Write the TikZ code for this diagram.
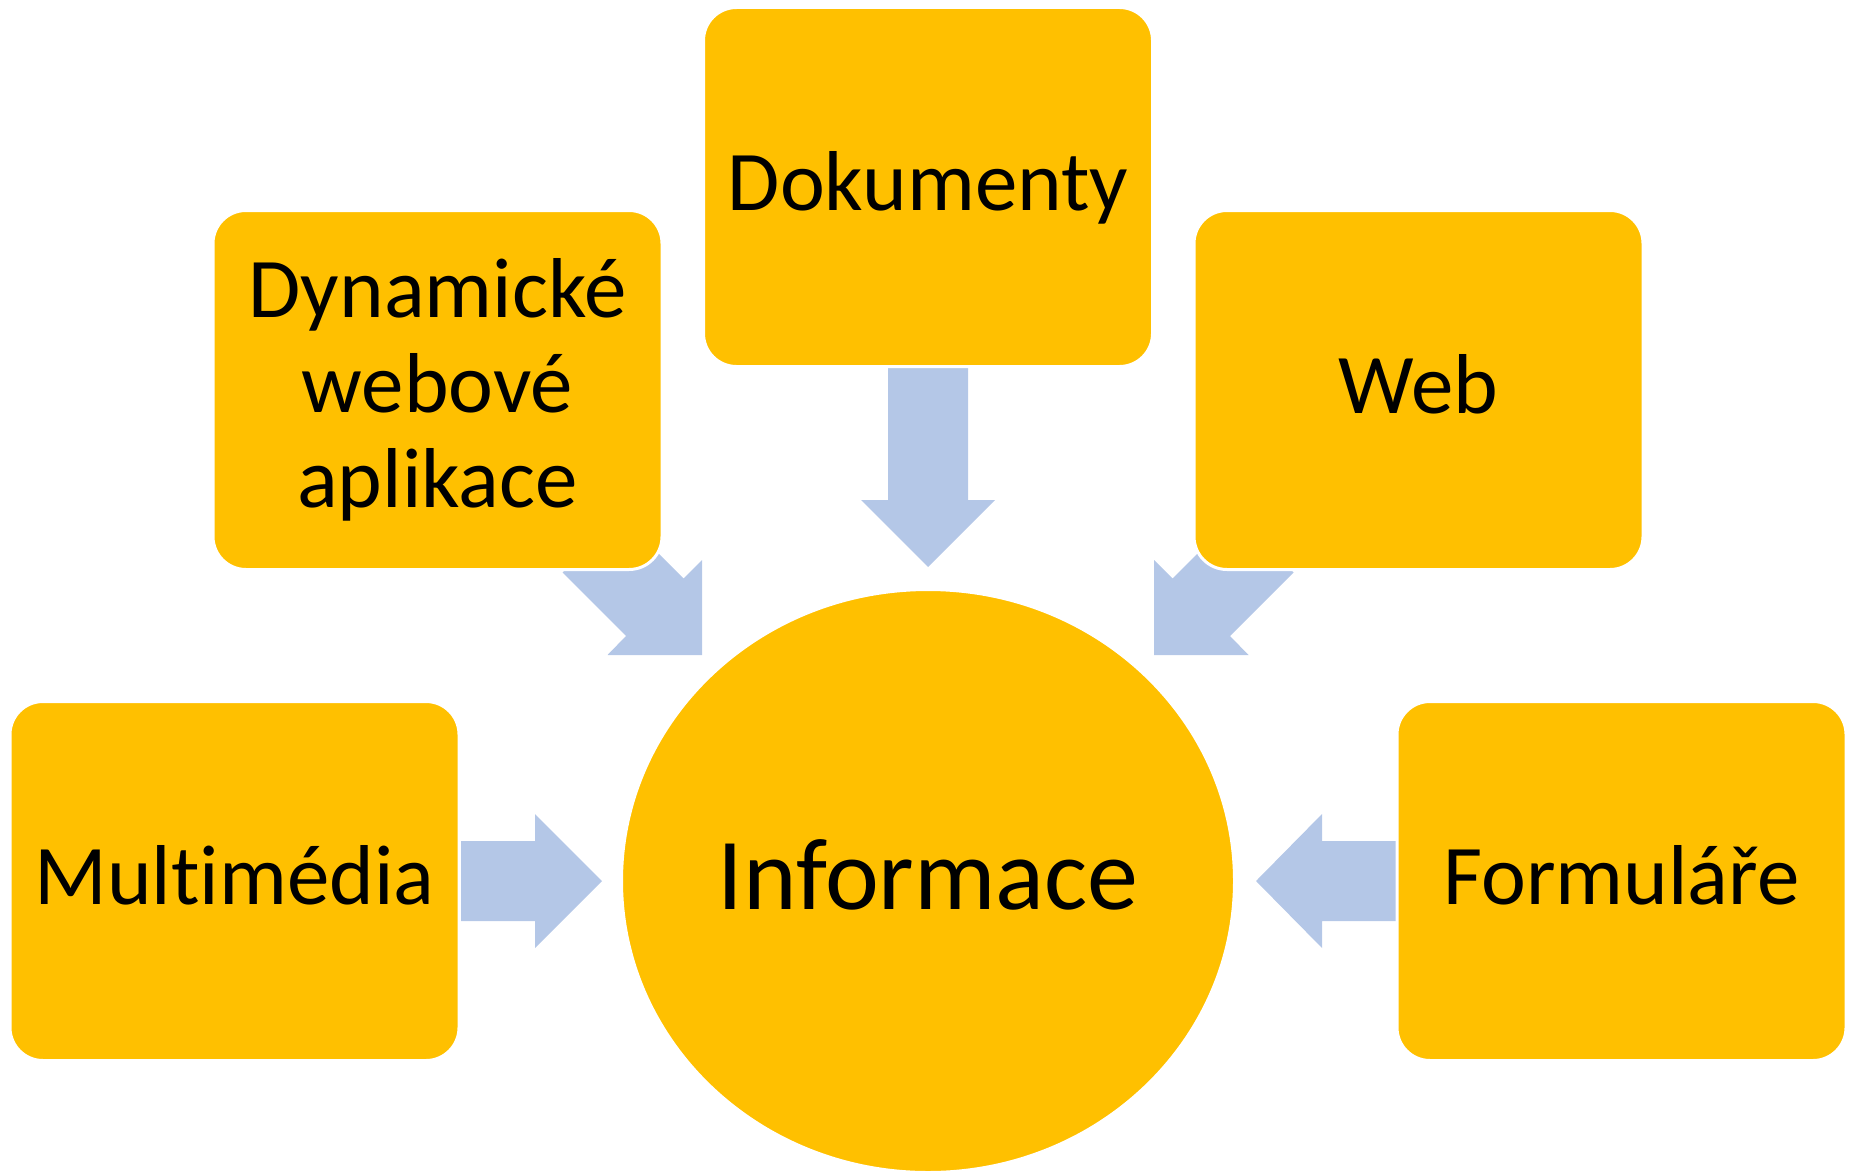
\documentclass[tikz,border=0pt]{standalone}
\usepackage{fontspec}
\setmainfont{Carlito}[Ligatures=NoCommon]
\definecolor{zluta}{HTML}{FFC000}
\definecolor{modra}{HTML}{B4C7E7}
\tikzset{
  box/.style={draw=white, line width=1.5pt, fill=zluta, rounded corners=16.5pt,
    minimum width=224.5pt, minimum height=179.5pt, align=center,
    font=\fontsize{42.5}{47.5}\selectfont},
  jeden/.style={text height=31pt, text depth=8pt},
  hub/.style={ellipse, draw=white, line width=1.5pt, fill=zluta, inner sep=0pt,
    minimum width=306.5pt, minimum height=291.5pt, font=\fontsize{51}{60}\selectfont,
    text height=36pt, text depth=8pt},
  sipka/.style={fill=modra}
}
\usetikzlibrary{shapes.geometric}
\begin{document}
\begin{tikzpicture}[x=0.5pt, y=-0.5pt]
\useasboundingbox (0,0) rectangle (1851,1172);

% sipky
\fill[sipka] (888,368)--(968,368)--(968,500)--(995,500)--(928,567)--(861,500)--(888,500)--cycle;
\fill[sipka] (461,841)--(535,841)--(535,814)--(602,881)--(535,948)--(535,921)--(461,921)--cycle;
\fill[sipka] (1397,841)--(1322,841)--(1322,814)--(1256,881)--(1322,948)--(1322,921)--(1397,921)--cycle;
\fill[sipka] (620,515)--(683.5,578.5)--(702,560)--(702,655)--(607.5,655)--(626,636)--(562.5,572.5)--cycle;
\fill[sipka] (1236,515)--(1172.5,578.5)--(1154,560)--(1154,655)--(1248.5,655)--(1230,636)--(1293.5,572.5)--cycle;

\node (info) at (928,881)[hub]{Informace};

\node (dok) at (928,187)[box, jeden]{Dokumenty};
\node (dyn) at (437.5,390)[box]{Dynamické\\webové\\aplikace};
\node (web) at (1418.5,390)[box, jeden]{Web};
\node (mm) at (234.5,881)[box, jeden]{Multimédia};
\node (form) at (1621.5,881)[box, jeden]{Formuláře};

\end{tikzpicture}
\end{document}
